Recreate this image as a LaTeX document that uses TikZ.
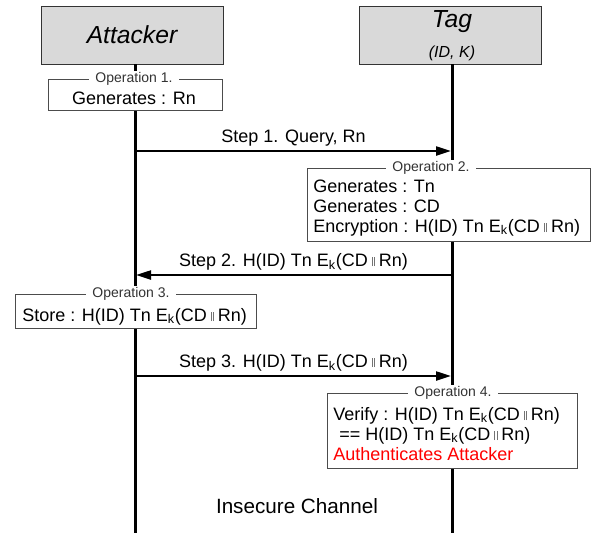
\documentclass[tikz,border=0pt]{standalone}
\usepackage{fontspec}
\setmainfont{Liberation Sans}
\usetikzlibrary{arrows.meta}
\newcommand\cat{\hspace{3pt}\textcolor{black!55}{\rule{0.5pt}{0.5em}\kern1.3pt\rule{0.5pt}{0.5em}}\hspace{3pt}}
\newcommand\Ek{E\textsubscript{k}}
\newcommand\msgbody{H(ID) Tn \Ek(CD\cat Rn)}

\begin{document}
\begin{tikzpicture}[x=0.75pt, y=-0.75pt,
    actor/.style = {draw=black!80, fill=black!15, minimum width=136.5pt, minimum height=43.5pt, inner sep=0pt},
    opbox/.style = {draw=black!70, inner sep=0pt},
    optitle/.style = {fill=white, inner xsep=5pt, inner ysep=1pt, text=black!80,
      font=\fontsize{10.5}{12}\selectfont},
    optext/.style = {anchor=base west, inner sep=0pt, font=\fontsize{13.5}{15}\selectfont},
    msg/.style = {line width=0.9pt, -{Triangle[length=11pt,width=7pt]}, shorten >=1pt},
    msgtext/.style = {above, font=\fontsize{13.5}{15}\selectfont},
    life/.style = {line width=2.25pt}]
  \useasboundingbox (0,0) rectangle (600,533);

  % participants
  \node[actor, font=\fontsize{18.5}{20}\selectfont\itshape] (attacker) at (132,35) {Attacker};
  \node[actor] (tag) at (450.5,35) {};
  \node[anchor=base, inner sep=0pt, font=\fontsize{18.5}{20}\selectfont\itshape] (tagname) at (452,27) {Tag};
  \node[anchor=base, inner sep=0pt, font=\fontsize{12}{14}\selectfont\itshape] (tagkeys) at (452,57) {(ID, K)};

  \coordinate (attackerend) at (135,533);
  \coordinate (tagend) at (452,533);
  \draw[life] (attacker.south -| attackerend) -- (attackerend);
  \draw[life] (tag.south -| tagend) -- (tagend);

  % operation 1
  \node[opbox, fill=white, minimum width=130.5pt, minimum height=23.25pt] (op1) at (135,94.5) {};
  \node[optitle] (op1title) at (134,79) {Operation 1.};
  \node[optext, anchor=base] (op1text) at (134,104) {Generates : Rn};

  % step 1
  \coordinate (a1) at (135,151);
  \coordinate (t1) at (452,151);
  \draw[msg] (a1) -- node[msgtext] (step1) {Step 1. Query, Rn} (t1);

  % operation 2
  \node[opbox, fill=white, minimum width=212.25pt, minimum height=54.75pt] (op2) at (448.5,204.5) {};
  \node[optitle] (op2title) at (431,168) {Operation 2.};
  \node[optext] (op2a) at (313,192) {Generates : Tn};
  \node[optext] (op2b) at (313,212) {Generates : CD};
  \node[optext] (op2c) at (313,232) {Encryption : \msgbody};

  % step 2
  \coordinate (t2) at (452,275);
  \coordinate (a2) at (135,275);
  \draw[msg] (t2) -- node[msgtext] (step2) {Step 2. \msgbody} (a2);

  % operation 3
  \node[opbox, fill=white, minimum width=180.75pt, minimum height=25.5pt] (op3) at (135.5,311) {};
  \node[optitle] (op3title) at (131,294) {Operation 3.};
  \node[optext] (op3text) at (22,321) {Store : \msgbody};

  % step 3
  \coordinate (a3) at (135,376);
  \coordinate (t3) at (452,376);
  \draw[msg] (a3) -- node[msgtext] (step3) {Step 3. \msgbody} (t3);

  % operation 4
  \node[opbox, fill=white, minimum width=187.5pt, minimum height=56.25pt] (op4) at (452,430.5) {};
  \node[optitle] (op4title) at (453,393) {Operation 4.};
  \node[optext] (op4a) at (333,420) {Verify : \msgbody};
  \node[optext] (op4b) at (339,440) {== \msgbody};
  \node[optext, text=red] (op4c) at (333,460) {Authenticates Attacker};

  \node[font=\fontsize{15.5}{18}\selectfont] (channel) at (297,506) {Insecure Channel};
\end{tikzpicture}
\end{document}
